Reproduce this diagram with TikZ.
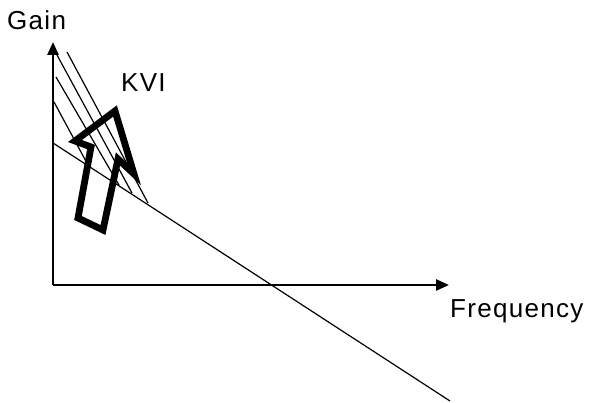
\documentclass[tikz,border=0pt]{standalone}
\usepackage{fontspec}
\setmainfont{Liberation Sans}[LetterSpace=5]
\usetikzlibrary{arrows.meta}
\tikzset{
  axis/.style={line width=2.6pt,-{Triangle[length=13pt,width=11pt]}},
  thin/.style={line width=1.2pt},
  lbl/.style={anchor=base west,inner sep=0pt,font=\fontsize{26}{30}\selectfont},
  bigarrow/.style={line width=6.8pt,line join=miter,miter limit=10}
}
\begin{document}
\begin{tikzpicture}[x=1pt,y=-1pt]
\useasboundingbox (0,0) rectangle (589,403);
\coordinate (O) at (53,285);
\coordinate (Ytop) at (53,42);
\coordinate (Xend) at (449,285);
\draw[axis] (O) -- (Ytop);
\draw[axis] (O) -- (Xend);
% main line
\coordinate (m1) at (53,143);
\coordinate (m2) at (450,401);
\draw[thin] (m1) -- (m2);
% parallel steep lines
\draw[thin] (67,52) -- (148,203);
\draw[thin] (57,55) -- (132,193);
\draw[thin] (56,77) -- (119,185);
\draw[thin] (54,102) -- (88,165);
% hollow arrow
\draw[bigarrow] (115,111) -- (134,174) -- (118,159) -- (103,230) -- (78,218) -- (91,147) -- (75,141) -- cycle;
\node[lbl] (gain) at (7,30) {Gain};
\node[lbl] (kvi) at (121,92) {KVI};
\node[lbl] (freq) at (450,318) {Frequency};
\end{tikzpicture}
\end{document}
